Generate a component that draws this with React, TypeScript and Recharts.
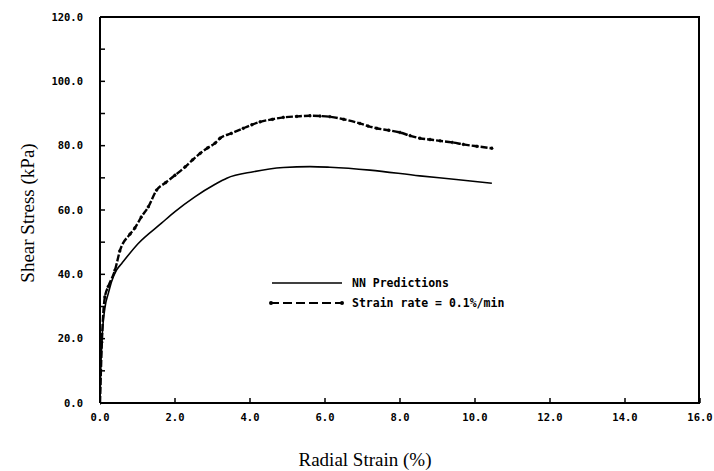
import React from 'react';
import { LineChart, Line, XAxis, YAxis } from 'recharts';

// NN Predictions (solid)
const nnStrain = [0, 0.02, 0.05, 0.13, 0.22, 0.31, 0.44, 0.58, 1.02, 1.64, 2.0, 2.53, 3.07, 3.38, 4.09, 4.89, 5.6, 6.13, 7.2, 8.53, 9.5, 10.45];
const nnStress = [0, 10, 19, 29.5, 34, 37.8, 41.3, 43.4, 49.6, 55.9, 59.5, 64.1, 68, 69.9, 71.9, 73.2, 73.5, 73.3, 72.4, 70.6, 69.5, 68.3];

// Strain rate = 0.1%/min (dashed with dots)
const rateStrain = [0, 0.05, 0.13, 0.22, 0.4, 0.53, 0.8, 0.93, 1.1, 1.29, 1.51, 1.75, 2.0, 2.27, 2.47, 2.67, 2.87, 3.07, 3.2, 3.5, 3.82, 4.05, 4.27, 4.6, 4.89, 5.25, 5.6, 5.87, 6.13, 6.5, 6.93, 7.15, 7.38, 7.7, 8.0, 8.27, 8.53, 8.8, 9.07, 9.4, 9.69, 10.05, 10.45];
const rateStress = [0, 19, 33, 36.2, 41.3, 47.3, 52.5, 54.4, 57.8, 61, 66.2, 68.5, 70.8, 73.4, 75.6, 77.6, 79.3, 80.8, 82.3, 83.8, 85.4, 86.5, 87.4, 88.2, 88.8, 89.1, 89.3, 89.2, 89, 88.2, 86.9, 86.1, 85.4, 84.8, 84.1, 83.1, 82.3, 81.9, 81.5, 81, 80.4, 79.8, 79.2];

const xTicks = [0, 2, 4, 6, 8, 10, 12, 14, 16];
const yTicks = [0, 10, 20, 30, 40, 50, 60, 70, 80, 90, 100, 110, 120];
const xMax = 16;
const yMax = 120;

const seriesNames = ['NN Predictions', 'Strain rate = 0.1%/min'];

const nnData = nnStrain.map((x, i) => ({ x, y: nnStress[i] }));
const rateData = rateStrain.map((x, i) => ({ x, y: rateStress[i] }));

const tickFont = { fontFamily: 'DejaVu Sans Mono', fontWeight: 'bold', fontSize: 10.5, fill: '#000' } as const;
const legendFont = { fontFamily: 'DejaVu Sans Mono', fontWeight: 'bold', fontSize: 11.5 } as const;

const LegendBox = () => (
  <svg width={260} height={40} style={{ display: 'block' }}>
    <line x1={4} y1={9} x2={74} y2={9} stroke="#000" strokeWidth={1.5} />
    <text x={84} y={13} style={legendFont} fill="#000">{seriesNames[0]}</text>
    <line x1={2} y1={29} x2={75} y2={29} stroke="#000" strokeWidth={2} strokeDasharray="9 4" />
    <circle cx={3} cy={29} r={2} fill="#000" />
    <circle cx={74} cy={29} r={2} fill="#000" />
    <text x={84} y={33} style={legendFont} fill="#000">{seriesNames[1]}</text>
  </svg>
);

// plot-area box (matches chart margins and axis sizes below)
const plotLeft = 100;
const plotTop = 17;
const plotWidth = 600;
const plotHeight = 386;

export default function App() {
  return (
    <div style={{ position: 'absolute', left: 0, top: 0, width: 714, height: 471, background: '#fff' }}>
      <LineChart width={714} height={471} margin={{ top: plotTop, right: 714 - plotLeft - plotWidth, left: 0, bottom: 0 }}>
        <XAxis
          dataKey="x"
          type="number"
          domain={[0, xMax]}
          ticks={xTicks}
          allowDataOverflow
          height={68}
          tickSize={-5}
          tickMargin={16}
          tickFormatter={(v: number) => v.toFixed(1)}
          tick={tickFont}
          axisLine={{ stroke: '#000', strokeWidth: 2 }}
          tickLine={{ stroke: '#000', strokeWidth: 1.5 }}
          label={{
            content: (props: any) => {
              const vb = props.viewBox || { x: 100, y: 403, width: 600, height: 68 };
              return (
                <text x={vb.x + vb.width / 2 - 35} y={vb.y + 63} textAnchor="middle" style={{ fontFamily: 'Liberation Serif', fontSize: 19 }} fill="#000">
                  Radial Strain (%)
                </text>
              );
            },
          }}
        />
        <YAxis
          type="number"
          domain={[0, yMax]}
          ticks={yTicks}
          width={plotLeft}
          tickSize={-5}
          tickMargin={22}
          tickFormatter={(v: number) => (v % 20 === 0 ? v.toFixed(1) : '')}
          tick={tickFont}
          axisLine={{ stroke: '#000', strokeWidth: 2 }}
          tickLine={{ stroke: '#000', strokeWidth: 1.5 }}
          label={{
            content: (props: any) => {
              const vb = props.viewBox || { x: 0, y: 17, width: 100, height: 386 };
              const cx = vb.x + 27;
              const cy = vb.y + vb.height / 2 + 3;
              return (
                <text x={cx} y={cy} transform={`rotate(-90 ${cx} ${cy})`} textAnchor="middle" dominantBaseline="central" style={{ fontFamily: 'Liberation Serif', fontSize: 19 }} fill="#000">
                  Shear Stress (kPa)
                </text>
              );
            },
          }}
        />
        <Line
          data={nnData}
          dataKey="y"
          name={seriesNames[0]}
          type="monotone"
          stroke="#000"
          strokeWidth={1.6}
          dot={false}
          isAnimationActive={false}
        />
        <Line
          data={rateData}
          dataKey="y"
          name={seriesNames[1]}
          type="monotone"
          stroke="#000"
          strokeWidth={2.4}
          strokeDasharray="7 2"
          dot={{ r: 1.4, fill: '#000', stroke: '#000', strokeWidth: 0.5 }}
          isAnimationActive={false}
        />
      </LineChart>
      <div
        style={{
          position: 'absolute',
          left: plotLeft,
          top: plotTop - 1,
          width: plotWidth,
          height: plotHeight,
          borderTop: '2px solid #000',
          borderRight: '2px solid #000',
          boxSizing: 'border-box',
          pointerEvents: 'none',
        }}
      />
      <div style={{ position: 'absolute', left: 268, top: 274 }}>
        <LegendBox />
      </div>
    </div>
  );
}
